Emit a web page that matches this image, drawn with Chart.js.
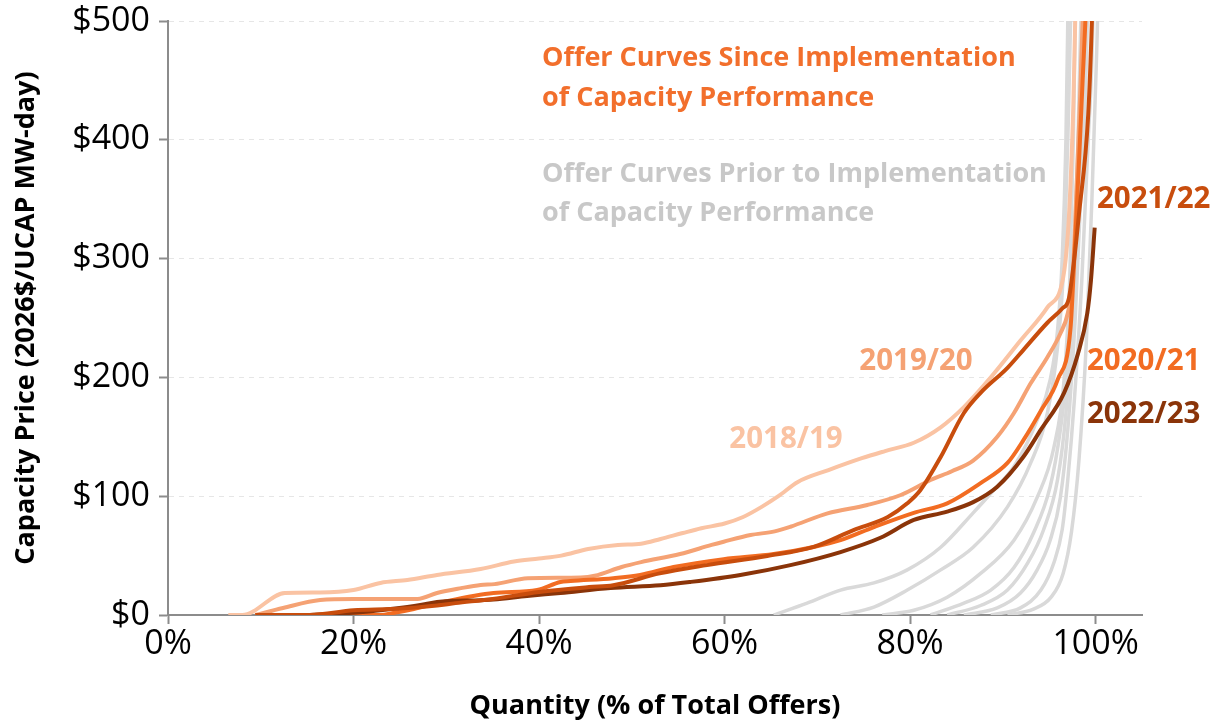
<!DOCTYPE html>
<html>
<head>
<meta charset="utf-8">
<script src="https://cdn.jsdelivr.net/npm/chart.js@4"></script>
<style>
  html, body { margin: 0; padding: 0; background: #fff; }
  #wrap { width: 1221px; height: 723px; }
</style>
</head>
<body>
<div id="wrap"><canvas id="offerChart" width="1221" height="723"></canvas></div>
<script>
// Sumbu
const xTicks = [0, 20, 40, 60, 80, 100];
const yTicks = [0, 100, 200, 300, 400, 500];

// Kurva penawaran sejak Capacity Performance (x = % penawaran, y = $/MW-hari)
const q1819 = [6.5, 8.0, 12.6, 16.4, 20.0, 22.9, 25.8, 29.0, 33.7, 37.3, 40.0, 42.4, 45.3, 48.5, 51.0, 53.1, 55.5, 57.5, 60.0, 62.0, 64.0, 65.8, 67.9, 71.2, 74.8, 77.3, 80.4, 83.3, 85.8, 88.7, 91.9, 94.8, 96.5, 97.0, 97.3, 97.6, 97.8, 98.0];
const p1819 = [0, 0, 18.5, 19, 21, 27, 29.5, 33.7, 38.7, 45, 47.5, 50, 55.6, 59, 60, 64, 69, 73, 77, 82.5, 91, 100, 112, 122, 132, 138, 145, 158, 175, 200, 231, 259, 284, 320, 364, 430, 500, 560];

const q1920 = [9.4, 12.4, 16.4, 20.0, 26.9, 29.0, 31.6, 33.7, 35.2, 38.8, 44.5, 46.0, 48.9, 51.0, 55.2, 58.6, 59.9, 62.8, 65.4, 67.1, 71.1, 75.4, 79.0, 82.2, 84.5, 86.8, 89.4, 91.2, 93.0, 94.8, 96.2, 97.0, 97.5, 97.9, 98.3, 98.6, 98.8];
const p1920 = [0, 5.9, 12.6, 13.5, 13.5, 18.5, 22.6, 25.3, 26, 31, 31.6, 33, 40.4, 44.5, 51.3, 59, 61.7, 67.3, 70.4, 74.3, 85.6, 92.6, 101, 113.6, 121, 130, 150, 170, 195, 217, 237, 254, 280, 350, 430, 500, 560];

const q2021 = [12.0, 22.9, 24.3, 26.5, 29.7, 35.1, 39.8, 42.3, 43.4, 48.0, 50.9, 54.5, 59.9, 65.3, 69.6, 72.5, 76.1, 80.4, 84.0, 87.6, 90.5, 92.2, 94.1, 95.9, 97.3, 97.7, 98.2, 98.6, 98.9, 99.1];
const p2021 = [0, 0, 1.7, 5, 11, 18.5, 21, 27.8, 28.6, 31, 33.7, 40.4, 47, 51.3, 57.3, 63, 74, 86, 94, 111, 128, 147, 172, 198, 242, 300, 380, 450, 500, 540];

const q2122 = [9.4, 15.3, 20.0, 24.0, 26.3, 29.0, 31.0, 35.0, 40.0, 45.4, 48.0, 53.0, 58.1, 64.6, 69.6, 73.9, 77.6, 79.7, 81.1, 83.3, 85.8, 87.6, 90.5, 92.2, 94.8, 96.4, 97.1, 97.7, 98.2, 99.2, 99.6, 99.8];
const p2122 = [0, 0, 4, 5, 6, 8, 10, 13.5, 19.4, 23.5, 25, 35, 42, 49.7, 57.3, 71.5, 82.5, 94, 105, 133, 170, 187, 208, 223, 246, 258, 266, 300, 337, 421, 500, 560];

const q2223 = [15.3, 18.0, 21.0, 24.0, 27.2, 29.0, 33.7, 35.1, 38.7, 42.3, 47.7, 53.1, 56.3, 61.7, 67.1, 72.5, 76.8, 80.4, 84.0, 86.8, 89.4, 92.2, 94.1, 96.6, 98.1, 99.1, 99.5, 99.9];
const p2223 = [0, 1, 2.5, 5, 8.4, 11, 12.5, 13, 16, 18.5, 22.7, 25, 27.8, 33.7, 42, 53, 65, 80, 87, 95, 108, 133, 156, 187, 220, 254, 282, 326];

// Kurva penawaran sebelum Capacity Performance (abu-abu)
const qPrior1 = [65.3, 68.9, 72.5, 76.1, 79.7, 83.3, 86.8, 89.0, 91.2, 93.7, 95.1, 95.9, 96.4, 96.8, 97.0, 97.1];
const pPrior1 = [0, 10, 21, 27, 38, 57, 86, 105, 125, 164, 198, 240, 300, 400, 500, 560];
const qPrior2 = [72.5, 76.1, 79.7, 83.3, 86.8, 90.5, 93.0, 94.8, 95.9, 96.6, 97.0, 97.3, 97.4];
const pPrior2 = [0, 6.7, 21, 38, 57, 91, 128, 170, 226, 300, 400, 500, 560];
const qPrior3 = [77.0, 80.4, 84.0, 87.6, 91.2, 93.7, 95.5, 96.6, 97.2, 97.6, 97.8, 98.0];
const pPrior3 = [0, 4, 15, 35, 63, 99, 141, 198, 280, 400, 500, 560];
const qPrior4 = [82.2, 85.8, 88.7, 91.2, 93.3, 95.1, 96.2, 97.0, 97.6, 98.1, 98.4, 98.5];
const pPrior4 = [0, 10, 21, 40, 69, 108, 156, 212, 300, 400, 500, 560];
const qPrior5 = [84.0, 87.6, 90.5, 92.7, 94.4, 95.9, 96.8, 97.5, 98.1, 98.7, 98.8];
const pPrior5 = [0, 8, 21, 44, 72, 114, 170, 250, 350, 500, 560];
const qPrior6 = [85.8, 89.4, 91.9, 93.7, 95.1, 96.2, 97.0, 97.8, 98.5, 99.1, 99.2];
const pPrior6 = [0, 6, 18.5, 38, 63, 99, 156, 250, 370, 500, 560];
const qPrior7 = [88.7, 91.9, 94.1, 95.5, 96.4, 97.0, 97.7, 98.5, 99.2, 99.7, 99.8];
const pPrior7 = [0, 6, 21, 44, 72, 114, 180, 280, 400, 500, 560];
const qPrior8 = [90.5, 93.3, 95.2, 96.5, 97.4, 98.2, 99.0, 99.6, 100.1, 100.2, 100.3];
const pPrior8 = [0, 5, 15, 35, 70, 130, 230, 350, 470, 500, 560];

const FONT = "'Open Sans', 'DejaVu Sans', sans-serif";
const GRAY = '#d9d9d9';

function toPoints(qs, ps) {
    return qs.map((q, i) => ({ x: q, y: ps[i] }));
}

function curve(label, qs, ps, color, width, order) {
    return {
        label: label,
        data: toPoints(qs, ps),
        borderColor: color,
        backgroundColor: color,
        borderWidth: width,
        pointRadius: 0,
        cubicInterpolationMode: 'monotone',
        order: order
    };
}

const priorCurves = [
    [qPrior1, pPrior1], [qPrior2, pPrior2], [qPrior3, pPrior3], [qPrior4, pPrior4],
    [qPrior5, pPrior5], [qPrior6, pPrior6], [qPrior7, pPrior7], [qPrior8, pPrior8]
].map((c, i) => curve('Prior ' + (i + 1), c[0], c[1], GRAY, 3.5, 10));

const datasets = priorCurves.concat([
    curve('2018/19', q1819, p1819, '#fac3a3', 4, 5),
    curve('2019/20', q1920, p1920, '#f5a274', 4, 4),
    curve('2020/21', q2021, p2021, '#f26c22', 4, 3),
    curve('2021/22', q2122, p2122, '#c84d0d', 4, 1),
    curve('2022/23', q2223, p2223, '#8a3409', 4, 2)
]);

// Teks keterangan di dalam area grafik
const notes = [
    { text: 'Offer Curves Since Implementation', x: 542, y: 58, color: '#f26f2c', size: 27, align: 'left' },
    { text: 'of Capacity Performance', x: 542, y: 98, color: '#f26f2c', size: 27, align: 'left' },
    { text: 'Offer Curves Prior to Implementation', x: 542, y: 174, color: '#c8c8c8', size: 27, align: 'left' },
    { text: 'of Capacity Performance', x: 542, y: 213, color: '#c8c8c8', size: 27, align: 'left' },
    { text: '2018/19', x: 786, y: 440, color: '#fac3a3', size: 29.5, align: 'center' },
    { text: '2019/20', x: 916, y: 362, color: '#f5a274', size: 29.5, align: 'center' },
    { text: '2021/22', x: 1097, y: 200, color: '#c84d0d', size: 29.5, align: 'left' },
    { text: '2020/21', x: 1087, y: 362, color: '#f26c22', size: 29.5, align: 'left' },
    { text: '2022/23', x: 1087, y: 415, color: '#8a3409', size: 29.5, align: 'left' }
];

const notesPlugin = {
    id: 'notes',
    afterDatasetsDraw(chart) {
        const ctx = chart.ctx;
        ctx.save();
        ctx.textBaseline = 'middle';
        notes.forEach(n => {
            ctx.font = 'bold ' + n.size + 'px ' + FONT;
            ctx.fillStyle = n.color;
            ctx.textAlign = n.align;
            ctx.fillText(n.text, n.x, n.y);
        });
        ctx.restore();
    }
};

new Chart(document.getElementById('offerChart').getContext('2d'), {
    type: 'line',
    data: { datasets: datasets },
    plugins: [notesPlugin],
    options: {
        responsive: false,
        animation: false,
        layout: { padding: { top: 21, right: 79, left: 0, bottom: 0 } },
        plugins: {
            legend: { display: false },
            tooltip: { enabled: false }
        },
        scales: {
            x: {
                type: 'linear',
                min: 0,
                max: 105,
                afterBuildTicks: (scale) => { scale.ticks = xTicks.map(v => ({ value: v })); },
                afterFit: (scale) => { scale.height = 108; },
                grid: { drawOnChartArea: false, drawTicks: true, tickLength: 9, tickColor: '#8c8c8c', tickWidth: 2 },
                border: { color: '#8c8c8c', width: 2 },
                ticks: {
                    color: '#000',
                    font: { family: FONT, size: 34 },
                    padding: 0,
                    maxRotation: 0,
                    autoSkip: false,
                    callback: (v) => v + '%'
                },
                title: {
                    display: true,
                    text: 'Quantity (% of Total Offers)',
                    color: '#000',
                    font: { family: FONT, size: 27, weight: 'bold' },
                    padding: { top: 0, bottom: 0 }
                }
            },
            y: {
                min: 0,
                max: 500,
                afterBuildTicks: (scale) => { scale.ticks = yTicks.map(v => ({ value: v })); },
                afterFit: (scale) => { scale.width = 168; },
                grid: {
                    color: '#e6e6e6',
                    lineWidth: 1,
                    drawTicks: true,
                    tickLength: 9,
                    tickColor: '#8c8c8c',
                    tickWidth: 2
                },
                border: { color: '#8c8c8c', width: 2, dash: [5, 5] },
                ticks: {
                    color: '#000',
                    font: { family: FONT, size: 34, lineHeight: 0.7 },
                    padding: 9,
                    callback: (v) => '$' + v
                },
                title: {
                    display: true,
                    text: 'Capacity Price (2026$/UCAP MW-day)',
                    color: '#000',
                    font: { family: FONT, size: 27, weight: 'bold' },
                    padding: { top: 10, bottom: 0 }
                }
            }
        }
    }
});
</script>
</body>
</html>
